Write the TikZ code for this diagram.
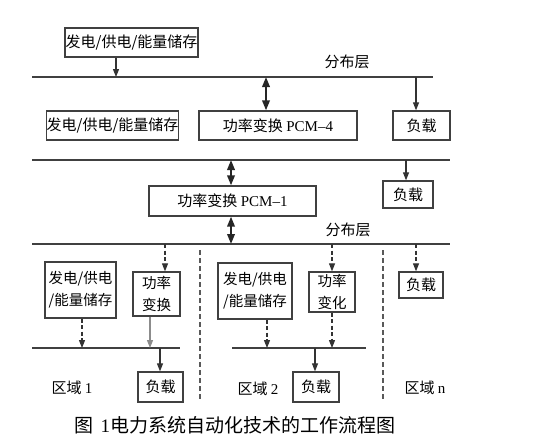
\documentclass[tikz,border=0pt]{standalone}
\usepackage{fontspec}
\setmainfont{Liberation Serif}
\newfontfamily\cjk{Noto Sans CJK SC}
\usetikzlibrary{arrows.meta}
\tikzset{
  unit box/.style={draw=black!75,line width=1.3pt,inner sep=0pt,align=center,font=\cjk\fontsize{15}{19}\selectfont},
  zone box/.style={unit box,font=\cjk\fontsize{14.5}{22}\selectfont},
  bus line/.style={line width=1.4pt,black!75},
  feed arrow/.style={line width=1.1pt,black!80,-{Triangle[length=8pt,width=6pt]}},
  dashed feed/.style={feed arrow,dash pattern=on 4pt off 2.5pt},
  pale feed/.style={feed arrow,black!45},
  two way/.style={line width=2pt,black!85,{Triangle[length=10pt,width=7.5pt]}-{Triangle[length=10pt,width=7.5pt]}},
  zone divider/.style={line width=1.1pt,black!65,dash pattern=on 5pt off 3pt},
  layer label/.style={font=\cjk\fontsize{15}{17}\selectfont},
}
\newcommand{\drawBus}[4]{
\coordinate (#1W) at (#2,#4);
\coordinate (#1E) at (#3,#4);
\draw[bus line] (#1W) -- (#1E);
}

\begin{document}
\begin{tikzpicture}[x=1pt,y=-1pt]
\useasboundingbox (0,0) rectangle (540,436);
% top layer
\node[unit box,minimum width=133pt,minimum height=29pt] (srcTop) at (131.5,42.5) {发电/供电/能量储存};
\drawBus{busA}{32}{433}{77}
\node[layer label] (layerA) at (347,62) {分布层};
\coordinate (tapA1) at (116,77);
\coordinate (tapA2) at (266,77);
\coordinate (tapA3) at (416,77);
\node[unit box,minimum width=127pt,minimum height=29pt] (srcMid) at (112.5,125.5) {发电/供电/能量储存};
\node[unit box,minimum width=158pt,minimum height=29pt] (pcmFour) at (278,125.5) {功率变换 {\rmfamily PCM–4}};
\node[unit box,minimum width=57pt,minimum height=29pt] (loadTop) at (421.5,125.5) {负载};
\draw[feed arrow] (srcTop.south -| tapA1) -- (tapA1);
\draw[two way] (tapA2) -- (pcmFour.north -| tapA2);
\draw[feed arrow] (tapA3) -- (loadTop.north -| tapA3);
% middle layer
\drawBus{busB}{32}{450}{160}
\coordinate (tapB1) at (231,160);
\coordinate (tapB2) at (406,160);
\node[unit box,minimum width=167pt,minimum height=30pt] (pcmOne) at (232.5,201) {功率变换 {\rmfamily PCM–1}};
\node[unit box,minimum width=50pt,minimum height=27pt] (loadMid) at (408,194.5) {负载};
\draw[two way] (tapB1) -- (pcmOne.north -| tapB1);
\draw[feed arrow] (tapB2) -- (loadMid.north -| tapB2);
\drawBus{busC}{32}{450}{244}
\node[layer label] (layerC) at (348,230) {分布层};
\coordinate (tapC1) at (231,244);
\draw[two way] (pcmOne.south -| tapC1) -- (tapC1);
% zones
\draw[zone divider] (200,250) -- (200,400);
\draw[zone divider] (383,250) -- (383,400);
\coordinate (tapC2) at (165,244);
\coordinate (tapC3) at (332,244);
\coordinate (tapC4) at (416,244);
% zone 1
\node[zone box,minimum width=71pt,minimum height=56pt] (srcZoneA) at (80.5,290) {发电/供电\\/能量储存};
\node[zone box,minimum width=47pt,minimum height=44pt] (convZoneA) at (156.5,294) {功率\\变换};
\drawBus{busD}{32}{180}{348}
\coordinate (tapD1) at (82,348);
\coordinate (tapD2) at (150,348);
\coordinate (tapD3) at (160,348);
\node[unit box,minimum width=45pt,minimum height=30pt] (loadZoneA) at (160.5,387) {负载};
\draw[dashed feed] (tapC2) -- (convZoneA.north -| tapC2);
\draw[dashed feed] (srcZoneA.south -| tapD1) -- (tapD1);
\draw[pale feed] (convZoneA.south -| tapD2) -- (tapD2);
\draw[feed arrow] (tapD3) -- (loadZoneA.north -| tapD3);
\node[layer label] (zoneA) at (72,388) {区域 {\rmfamily 1}};
% zone 2
\node[zone box,minimum width=74pt,minimum height=56pt] (srcZoneB) at (255,291) {发电/供电\\/能量储存};
\node[zone box,minimum width=46pt,minimum height=40pt] (convZoneB) at (332,292) {功率\\变化};
\drawBus{busE}{232}{366}{348}
\coordinate (tapE1) at (267,348);
\coordinate (tapE2) at (332,348);
\coordinate (tapE3) at (315,348);
\node[unit box,minimum width=46pt,minimum height=30pt] (loadZoneB) at (316,387) {负载};
\draw[dashed feed] (tapC3) -- (convZoneB.north -| tapC3);
\draw[dashed feed] (srcZoneB.south -| tapE1) -- (tapE1);
\draw[dashed feed] (convZoneB.south -| tapE2) -- (tapE2);
\draw[feed arrow] (tapE3) -- (loadZoneB.north -| tapE3);
\node[layer label] (zoneB) at (258,389) {区域 {\rmfamily 2}};
% zone n
\node[unit box,minimum width=44pt,minimum height=26pt] (loadZoneN) at (421,285) {负载};
\draw[dashed feed] (tapC4) -- (loadZoneN.north -| tapC4);
\node[layer label] (zoneN) at (425,388) {区域 {\rmfamily n}};
% caption
\node[font=\cjk\fontsize{19}{21}\selectfont,anchor=west] (caption) at (71,425) {图\hspace{7pt}{\rmfamily 1}电力系统自动化技术的工作流程图};
\end{tikzpicture}
\end{document}
